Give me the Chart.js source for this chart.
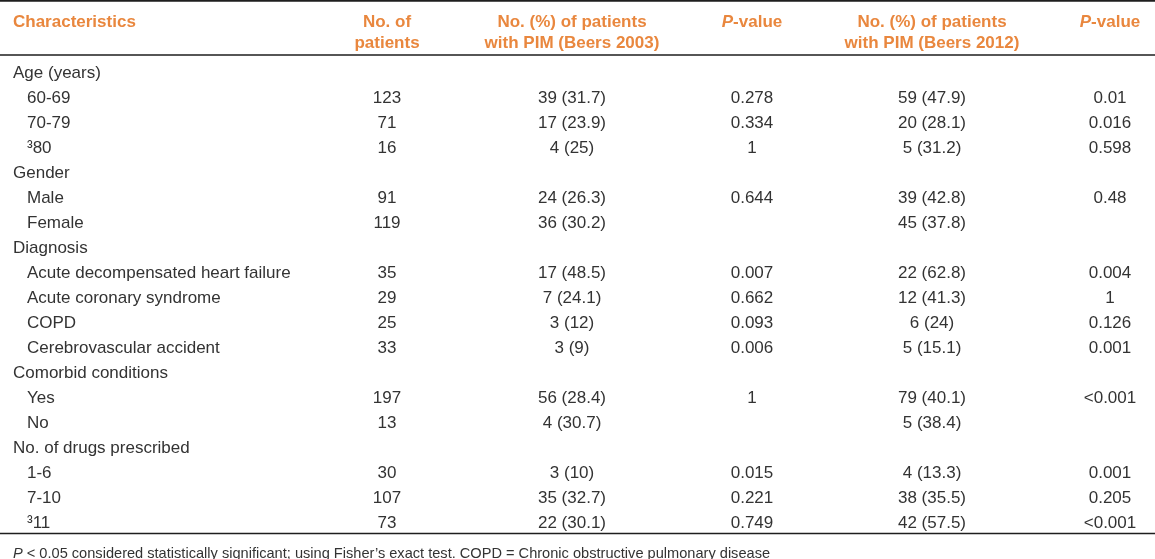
<!DOCTYPE html>
<html>
<head>
<meta charset="utf-8">
<script src="https://cdn.jsdelivr.net/npm/chart.js@4"></script>
<style>
  body { margin: 0; background: #fff; }
  canvas { display: block; }
</style>
</head>
<body>
<canvas id="tableau" width="1155" height="559"></canvas>
<script>
// Table data
var rowLabels = ["Age (years)", "60-69", "70-79", "³80", "Gender", "Male", "Female", "Diagnosis",
  "Acute decompensated heart failure", "Acute coronary syndrome", "COPD", "Cerebrovascular accident",
  "Comorbid conditions", "Yes", "No", "No. of drugs prescribed", "1-6", "7-10", "³11"];
var isGroup = [true, false, false, false, true, false, false, true, false, false, false, false,
  true, false, false, true, false, false, false];
var patients = [null, 123, 71, 16, null, 91, 119, null, 35, 29, 25, 33, null, 197, 13, null, 30, 107, 73];
var pim2003N = [null, 39, 17, 4, null, 24, 36, null, 17, 7, 3, 3, null, 56, 4, null, 3, 35, 22];
var pim2003Pct = [null, 31.7, 23.9, 25, null, 26.3, 30.2, null, 48.5, 24.1, 12, 9, null, 28.4, 30.7, null, 10, 32.7, 30.1];
var pValue2003 = [null, "0.278", "0.334", "1", null, "0.644", null, null, "0.007", "0.662", "0.093", "0.006",
  null, "1", null, null, "0.015", "0.221", "0.749"];
var pim2012N = [null, 59, 20, 5, null, 39, 45, null, 22, 12, 6, 5, null, 79, 5, null, 4, 38, 42];
var pim2012Pct = [null, 47.9, 28.1, 31.2, null, 42.8, 37.8, null, 62.8, 41.3, 24, 15.1, null, 40.1, 38.4, null, 13.3, 35.5, 57.5];
var pValue2012 = [null, "0.01", "0.016", "0.598", null, "0.48", null, null, "0.004", "1", "0.126", "0.001",
  null, "<0.001", null, null, "0.001", "0.205", "<0.001"];
var headers = [
  [[{ t: "Characteristics" }]],
  [[{ t: "No. of" }], [{ t: "patients" }]],
  [[{ t: "No. (%) of patients" }], [{ t: "with PIM (Beers 2003)" }]],
  [[{ t: "P", i: true }, { t: "-value" }]],
  [[{ t: "No. (%) of patients" }], [{ t: "with PIM (Beers 2012)" }]],
  [[{ t: "P", i: true }, { t: "-value" }]]
];
var footnote = [{ t: "P", i: true }, { t: " < 0.05 considered statistically significant; using Fisher\u2019s exact test. COPD = Chronic obstructive pulmonary disease" }];

// Mise en page
var colX = [13, 387, 572, 752, 932, 1110];
var indentX = 27;
var rowStep = 25.03;
var yMin = -71.5 / rowStep;
var yMax = yMin + 559 / rowStep;
var headerRows = [-2.02, -1.18];
var rules = [-2.82, -0.66, 18.46];
var footRow = 19.22;
var orange = "rgb(233,135,62)";
var ink = "#333333";
var family = "'Liberation Sans', Arial, sans-serif";

function cell(x, y, label) {
  return { x: x, y: y, label: label };
}

function colonne(values, x, fmt) {
  var pts = [];
  for (var i = 0; i < values.length; i++) {
    if (values[i] !== null) pts.push(cell(x, i, fmt(i)));
  }
  return pts;
}

var datasets = [];

// Colonne des caractéristiques
datasets.push({
  kind: "text", align: "left",
  data: rowLabels.map(function(l, i) { return cell(isGroup[i] ? colX[0] : indentX, i, [{ t: l }]); })
});
datasets.push({ kind: "text", align: "center", data: colonne(patients, colX[1], function(i) { return [{ t: String(patients[i]) }]; }) });
datasets.push({ kind: "text", align: "center", data: colonne(pim2003N, colX[2], function(i) { return [{ t: pim2003N[i] + " (" + pim2003Pct[i] + ")" }]; }) });
datasets.push({ kind: "text", align: "center", data: colonne(pValue2003, colX[3], function(i) { return [{ t: pValue2003[i] }]; }) });
datasets.push({ kind: "text", align: "center", data: colonne(pim2012N, colX[4], function(i) { return [{ t: pim2012N[i] + " (" + pim2012Pct[i] + ")" }]; }) });
datasets.push({ kind: "text", align: "center", data: colonne(pValue2012, colX[5], function(i) { return [{ t: pValue2012[i] }]; }) });

// En-têtes
var headerPts = [];
headers.forEach(function(lines, c) {
  lines.forEach(function(parts, k) {
    headerPts.push(cell(colX[c], headerRows[k], parts));
  });
});
datasets.push({ kind: "text", align: "center", header: true, data: headerPts });
// la première colonne d'en-tête est alignée à gauche
datasets[datasets.length - 1].data[0].left = true;

// Note de bas de tableau
datasets.push({ kind: "text", align: "left", foot: true, data: [cell(colX[0], footRow, footnote)] });

// Filets horizontaux
rules.forEach(function(r) {
  datasets.push({
    kind: "rule", showLine: true, borderColor: "#1e1e1e", borderWidth: 1.6, pointRadius: 0,
    data: [{ x: 0, y: r }, { x: 1155, y: r }]
  });
});

datasets.forEach(function(ds) {
  if (ds.kind === "text") { ds.pointRadius = 0; ds.showLine = false; }
});

function sizeFor(ds) {
  return ds.foot ? 14.6 : 17;
}

function fontFor(ds, italic) {
  var weight = ds.header ? "bold " : "";
  return (italic ? "italic " : "") + weight + sizeFor(ds) + "px " + family;
}

var tablePlugin = {
  id: "tablePlugin",
  afterDatasetsDraw: function(chart) {
    var ctx = chart.ctx;
    ctx.save();
    ctx.textBaseline = "alphabetic";
    chart.data.datasets.forEach(function(ds, d) {
      if (ds.kind !== "text") return;
      var meta = chart.getDatasetMeta(d);
      ctx.fillStyle = ds.header ? orange : ink;
      meta.data.forEach(function(pt, j) {
        var parts = ds.data[j].label;
        var widths = parts.map(function(p) { ctx.font = fontFor(ds, p.i); return ctx.measureText(p.t).width; });
        var total = widths.reduce(function(a, b) { return a + b; }, 0);
        var x = (ds.align === "center" && !ds.data[j].left) ? pt.x - total / 2 : pt.x;
        var y = pt.y + sizeFor(ds) * 0.358;
        parts.forEach(function(p, k) {
          ctx.font = fontFor(ds, p.i);
          ctx.textAlign = "left";
          ctx.fillText(p.t, x, y);
          x += widths[k];
        });
      });
    });
    ctx.restore();
  }
};

var ctx = document.getElementById("tableau").getContext("2d");
var chart = new Chart(ctx, {
  type: "scatter",
  data: { datasets: datasets },
  options: {
    responsive: false,
    animation: false,
    events: [],
    layout: { padding: 0 },
    plugins: { legend: { display: false }, tooltip: { enabled: false } },
    scales: {
      x: { type: "linear", display: false, min: 0, max: 1155 },
      y: { type: "linear", display: false, reverse: true, min: yMin, max: yMax }
    }
  },
  plugins: [tablePlugin]
});
</script>
</body>
</html>
